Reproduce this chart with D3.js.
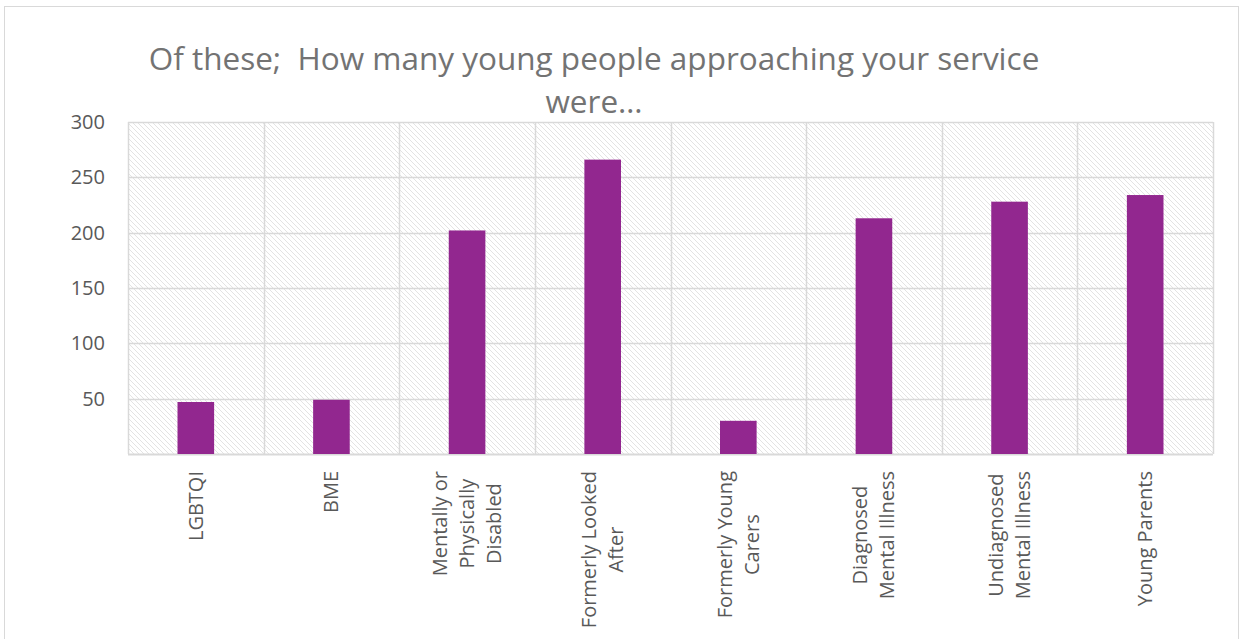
<!DOCTYPE html>
<html><head><meta charset="utf-8">
<script src="https://cdn.jsdelivr.net/npm/d3@7"></script>
<style>body{margin:0;background:#fff;} svg{display:block;}</style>
</head><body>
<svg id="c" width="1241" height="639"></svg>
<script>
const categories = ["LGBTQI","BME","Mentally or Physically Disabled","Formerly Looked After","Formerly Young Carers","Diagnosed Mental Illness","Undiagnosed Mental Illness","Young Parents"];
const labelLines = [["LGBTQI"],["BME"],["Mentally or","Physically","Disabled"],["Formerly Looked","After"],["Formerly Young","Carers"],["Diagnosed","Mental Illness"],["Undiagnosed","Mental Illness"],["Young Parents"]];
const values = [47, 49, 202, 266, 30, 213, 228, 234];
const yTicks = [0, 50, 100, 150, 200, 250, 300];
const titleLines = ["Of these;  How many young people approaching your service", "were…"];

const svg = d3.select("#c");
const m = {left:128, right:1213, top:122, bottom:454};
const textColor = "#595959", grid = "#d9d9d9", barColor = "#92278F";
const font = "'Open Sans', sans-serif";

const defs = svg.append("defs");
const pat = defs.append("pattern").attr("id","hatch").attr("patternUnits","userSpaceOnUse")
  .attr("width",5).attr("height",5);
pat.append("path").attr("d","M0,0 L5,5 M-1,4 L1,6 M4,-1 L6,1")
  .attr("stroke","#e3e3e3").attr("stroke-width",1).attr("fill","none");

// outer border
svg.append("rect").attr("x",4.5).attr("y",6.5).attr("width",1234).attr("height",650)
  .attr("fill","#fff").attr("stroke",grid).attr("stroke-width",1);

const x = d3.scaleBand().domain(categories).range([m.left, m.right]).paddingInner(0).paddingOuter(0);
const y = d3.scaleLinear().domain([0,300]).range([m.bottom, m.top]);

// plot background hatch
svg.append("rect").attr("x",m.left).attr("y",m.top).attr("width",m.right-m.left).attr("height",m.bottom-m.top)
  .attr("fill","url(#hatch)");

// horizontal gridlines
svg.append("g").selectAll("line").data(yTicks).join("line")
  .attr("x1",m.left).attr("x2",m.right)
  .attr("y1",d=>Math.round(y(d))+0.5).attr("y2",d=>Math.round(y(d))+0.5)
  .attr("stroke",grid).attr("stroke-width",d=>d===0?2:1.5);

// vertical gridlines at band boundaries
const bounds = categories.map(c=>x(c)).concat([m.right]);
svg.append("g").selectAll("line").data(bounds).join("line")
  .attr("x1",d=>Math.round(d)+0.5).attr("x2",d=>Math.round(d)+0.5)
  .attr("y1",m.top).attr("y2",m.bottom)
  .attr("stroke",grid).attr("stroke-width",1.5);

// bars
const bw = x.bandwidth()*0.27;
svg.append("g").selectAll("rect").data(values).join("rect")
  .attr("x",(d,i)=>x(categories[i])+x.bandwidth()/2-bw/2)
  .attr("width",bw)
  .attr("y",d=>y(d)).attr("height",d=>y(0)-y(d))
  .attr("fill",barColor);

// y axis labels (no 0)
const yAxis = d3.axisLeft(y).tickValues(yTicks.filter(d=>d>0)).tickSize(0).tickPadding(23);
const ga = svg.append("g").attr("transform",`translate(${m.left},0)`).call(yAxis);
ga.select(".domain").remove();
ga.selectAll("text").attr("font-family",font).attr("font-size",20).attr("fill",textColor);

// x labels rotated
const lh = 27;
categories.forEach((c,i)=>{
  const lines = labelLines[i];
  const cx = x(c)+x.bandwidth()/2;
  const g = svg.append("g");
  const t = g.append("text").attr("font-family",font).attr("font-size",20).attr("fill",textColor)
    .attr("text-anchor","middle");
  lines.forEach((l,j)=>{
    t.append("tspan").attr("x",0).attr("y",(j-(lines.length-1)/2)*lh).attr("dy","0.35em").text(l);
  });
  let maxLen = 0;
  t.selectAll("tspan").each(function(){ maxLen = Math.max(maxLen, this.getComputedTextLength()); });
  const cy = 471 + maxLen/2;
  g.attr("transform",`translate(${cx},${cy}) rotate(-90)`);
});

// title
const tt = svg.append("text").attr("font-family",font).attr("font-size",31.5).attr("fill","#737373")
  .attr("text-anchor","middle").style("white-space","pre");
titleLines.forEach((l,j)=>{
  tt.append("tspan").attr("x",594).attr("y",70+j*43).text(l);
});
</script>
</body></html>
